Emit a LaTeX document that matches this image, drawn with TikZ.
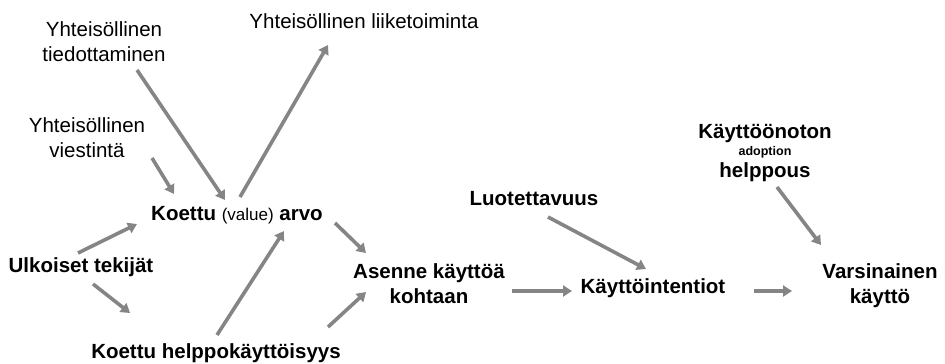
\documentclass[tikz,border=0pt]{standalone}
\usepackage{fontspec}
\setmainfont{Liberation Sans}
\usetikzlibrary{arrows.meta}
\begin{document}
\begin{tikzpicture}[x=1pt,y=-1pt,
  lbl/.style={inner sep=0pt,anchor=base,align=center,font=\fontsize{20.5}{24.5}\selectfont},
  blbl/.style={lbl,font=\fontsize{20.5}{24.5}\selectfont\bfseries},
  link/.style={draw=black!48,line width=3.6pt,-{Triangle[length=9pt,width=11pt]}}]
\useasboundingbox (0,0) rectangle (945,364);

% labels (multi-line labels are placed by the baseline of their last line)
\node[lbl] (tied) at (104,61) {Yhteisöllinen\\tiedottaminen};
\node[lbl] (liike) at (364,28) {Yhteisöllinen liiketoiminta};
\node[lbl] (viest) at (87,157) {Yhteisöllinen\\viestintä};
\node[blbl] (arvo) at (237,220) {Koettu {\mdseries\fontsize{17}{20}\selectfont(value)} arvo};
\node[blbl] (ulk) at (81,272) {Ulkoiset tekijät};
\node[blbl] (help) at (216,358) {Koettu helppokäyttöisyys};
\node[blbl] (asen) at (429,303) {Asenne käyttöä\\kohtaan};
\node[blbl] (luot) at (534,205) {Luotettavuus};
\node[blbl] (int) at (653,293) {Käyttöintentiot};
\node[blbl] (vars) at (880,303) {Varsinainen\\käyttö};
\node[blbl] (kayt) at (765,177) {Käyttöönoton\\[-7pt]{\fontsize{12.5}{14}\selectfont adoption}\\[-3pt]helppous};

% connector end points
\coordinate (tied-s) at (137,70);   \coordinate (tied-e) at (225,200);
\coordinate (liike-s) at (240,197); \coordinate (liike-e) at (328,45);
\coordinate (viest-s) at (152,158); \coordinate (viest-e) at (174,194);
\coordinate (ulk1-s) at (78,253);   \coordinate (ulk1-e) at (137,224);
\coordinate (ulk2-s) at (93,284);   \coordinate (ulk2-e) at (130,313);
\coordinate (help1-s) at (217,335); \coordinate (help1-e) at (284,231);
\coordinate (arvo-s) at (335,223);  \coordinate (arvo-e) at (366,253);
\coordinate (help2-s) at (328,327); \coordinate (help2-e) at (366,292);
\coordinate (asen-s) at (512,291);  \coordinate (asen-e) at (572,291);
\coordinate (luot-s) at (548,217);  \coordinate (luot-e) at (646,269);
\coordinate (int-s) at (754,291);   \coordinate (int-e) at (792,291);
\coordinate (kayt-s) at (777,187);  \coordinate (kayt-e) at (821,245);

% connectors
\draw[link] (tied-s) -- (tied-e);
\draw[link] (liike-s) -- (liike-e);
\draw[link] (viest-s) -- (viest-e);
\draw[link] (ulk1-s) -- (ulk1-e);
\draw[link] (ulk2-s) -- (ulk2-e);
\draw[link] (help1-s) -- (help1-e);
\draw[link] (arvo-s) -- (arvo-e);
\draw[link] (help2-s) -- (help2-e);
\draw[link] (asen-s) -- (asen-e);
\draw[link] (luot-s) -- (luot-e);
\draw[link] (int-s) -- (int-e);
\draw[link] (kayt-s) -- (kayt-e);
\end{tikzpicture}
\end{document}
